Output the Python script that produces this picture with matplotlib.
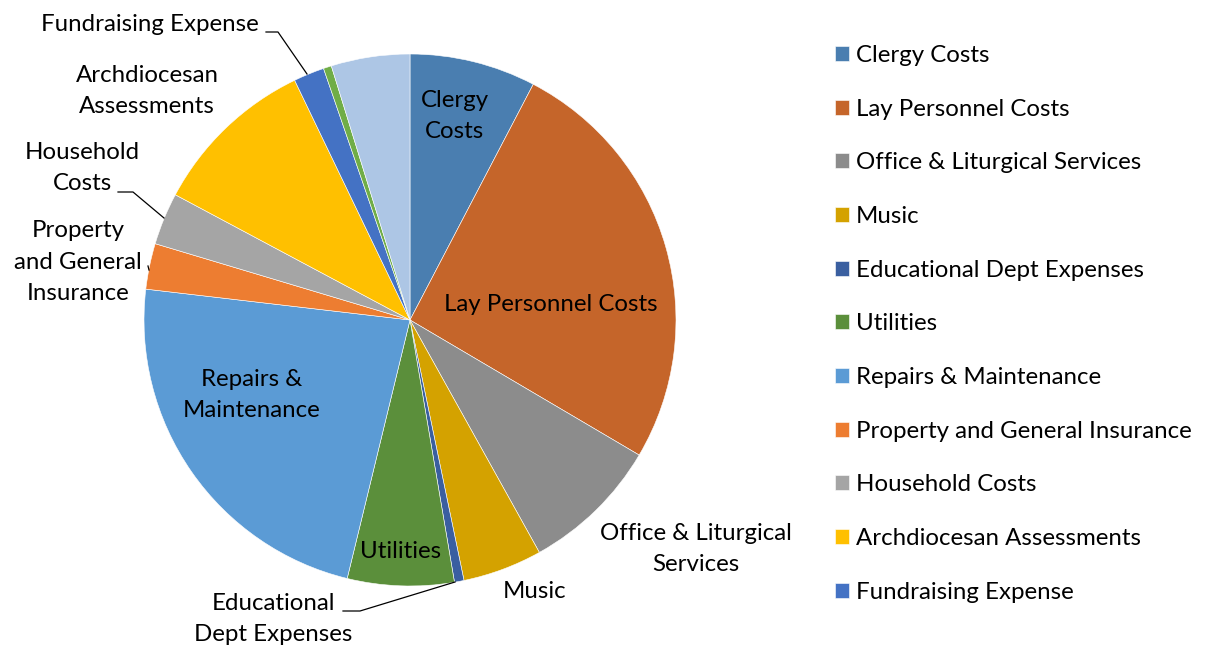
import matplotlib
matplotlib.use("Agg")
import matplotlib.pyplot as plt

plt.rcParams['font.family'] = ['Lato', 'DejaVu Sans']

categories = ["Clergy Costs", "Lay Personnel Costs", "Office & Liturgical Services", "Music",
              "Educational Dept Expenses", "Utilities", "Repairs & Maintenance",
              "Property and General Insurance", "Household Costs", "Archdiocesan Assessments",
              "Fundraising Expense", "Other", "Miscellaneous"]
values = [7.67, 25.81, 8.44, 4.83, 0.58, 6.47, 23.06, 2.78, 3.17, 10.06, 1.87, 0.49, 4.78]
colors = ["#4A7EB0", "#C5652A", "#8C8C8C", "#D4A200", "#3A5FA0", "#5B8F3B", "#5B9BD5",
          "#ED7D31", "#A5A5A5", "#FFC000", "#4472C4", "#70AD47", "#ADC6E5"]
n_legend = 11

W, H = 1209, 647
fig = plt.figure(figsize=(W / 100, H / 100), dpi=100)
cx, cy, r = 410, 320, 266
ax = fig.add_axes([(cx - r) / W, (H - cy - r) / H, 2 * r / W, 2 * r / H])
wedges, _ = ax.pie(values, colors=colors, startangle=90, counterclock=False,
                   wedgeprops=dict(edgecolor="white", linewidth=0.4))
ax.set_xlim(-1, 1)
ax.set_ylim(-1, 1)
ax.set_aspect('equal')
ax.axis('off')

def d(px, py):
    return ((px - cx) / r, (cy - py) / r)

fs = 17.3
labels = [
    ("Clergy\nCosts", (455, 116), 'center'),
    ("Lay Personnel Costs", (551, 304), 'center'),
    ("Office & Liturgical\nServices", (696, 549), 'center'),
    ("Music", (535, 592), 'center'),
    ("Educational\nDept Expenses", (273, 619), 'center'),
    ("Utilities", (401, 552), 'center'),
    ("Repairs &\nMaintenance", (252, 395), 'center'),
    ("Property\nand General\nInsurance", (78, 262), 'center'),
    ("Household\nCosts", (82, 168), 'center'),
    ("Archdiocesan\nAssessments", (147, 91), 'center'),
    ("Fundraising Expense", (150, 24), 'center'),
]
for txt, (px, py), ha in labels:
    x, y = d(px, py)
    ax.text(x, y, txt, ha=ha, va='center', fontsize=fs, linespacing=1.6, clip_on=False)

leaders = [
    [(266, 32), (278, 32), (307, 74)],
    [(118, 192), (133, 192), (164, 218)],
    [(343, 611), (360, 611), (455, 582)],
    [(148, 266), (149, 270)],
]
for pts in leaders:
    xs = [d(*p)[0] for p in pts]
    ys = [d(*p)[1] for p in pts]
    ax.plot(xs, ys, color='black', lw=0.9, clip_on=False)

leg = fig.legend(wedges[:n_legend], categories[:n_legend], loc='upper left',
                 bbox_to_anchor=(835 / W, 1 - 45 / H), frameon=False, fontsize=17.3,
                 handlelength=0.58, handleheight=0.58, handletextpad=0.3,
                 labelspacing=1.36, borderaxespad=0, borderpad=0)

fig.savefig("out.png", dpi=100)
